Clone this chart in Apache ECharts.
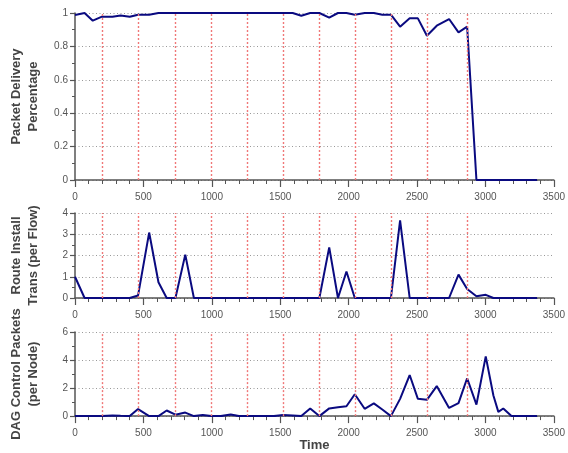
<!DOCTYPE html>
<html><head><meta charset="utf-8">
<script src="https://cdn.jsdelivr.net/npm/echarts@6/dist/echarts.min.js"></script>
<style>html,body{margin:0;padding:0;background:#fff}#c{width:568px;height:453px}</style>
</head><body><div id="c"></div>
<script>
// Time stamps of samples (shared by all three panels)
const times = [0,70,130,197,274,333,400,461,542,610,670,734,806,869,934,996,1066,1138,1198,1260,1325,1390,1454,1521,1591,1654,1719,1786,1858,1922,1984,2045,2117,2184,2246,2309,2376,2446,2506,2572,2644,2734,2803,2866,2934,3002,3058,3094,3130,3190,3254,3312,3377];
// Panel 1: Packet Delivery Percentage
const delivery = [0.988,1.0,0.954,0.978,0.978,0.985,0.978,0.99,0.99,1.0,
  1,1,1,1,1,1,1,1,1,1,1,1,1,1,
  1.0,0.984,1.0,1.0,0.972,1.0,1.0,0.99,1.0,1.0,0.99,0.99,
  0.918,0.968,0.968,0.864,0.924,0.964,0.884,0.918,
  0,0,0,0,0,0,0,0,0];
// Panel 2: Route Install Trans (per Flow)
const routeInstall = [1.0,0,0,0,0,0,0,0.12,3.08,0.74,0,0,2.04,0,
  0,0,0,0,0,0,0,0,0,0,0,0,0,0,
  2.38,0,1.25,0,0,0,0,0,3.65,0,0,0,0,0,1.1,0.42,0.08,0.15,0,
  0,0,0,0,0,0];
// Panel 3: DAG Control Packets (per Node)
const dagControl = [0,0,0,0,0.05,0.02,0,0.5,0,0,0.4,0.1,0.25,0,0.08,0,0,0.12,0,0,0,0,0,0.08,0.05,0,
  0.55,0,0.55,0.63,0.7,1.56,0.52,0.91,0.47,0,1.23,2.93,1.23,1.16,2.14,0.58,0.93,2.7,0.82,4.26,1.47,0.3,0.54,
  0,0,0,0];
// Vertical red dotted event markers
const eventTimes = [197,461,734,996,1260,1521,1786,2045,2309,2572,2866];
// Axis tick settings
const xMin = 0, xMax = 3500, xInterval = 500;
const yMaxes = [1, 4, 6];
const yIntervals = [0.2, 1, 2];
const yNames = ['Packet Delivery\nPercentage', 'Route Install\nTrans (per Flow)', 'DAG Control Packets\n(per Node)'];
const seriesData = [delivery, routeInstall, dagControl];

const grids = [
  {left: 72, right: 10, top: 13, height: 167},
  {left: 72, right: 10, top: 213, height: 85},
  {left: 72, right: 10, top: 332, height: 86}
];
const axisColor = '#555';
const labelFont = 'Liberation Sans';

const xAxes = grids.map((g, i) => ({
  type: 'value', gridIndex: i, min: xMin, max: xMax, interval: xInterval,
  axisLine: {show: true, lineStyle: {color: axisColor, width: 1.5}},
  axisTick: {show: true, length: 7, lineStyle: {color: axisColor, width: 1.2}},
  minorTick: {show: true, splitNumber: 5, length: 4, lineStyle: {color: axisColor, width: 1}},
  splitLine: {show: false},
  axisLabel: {color: '#555', fontSize: 10, fontFamily: labelFont, margin: 12, formatter: v => String(v)},
  name: i === 2 ? 'Time' : '',
  nameLocation: 'middle', nameGap: 22,
  nameTextStyle: {color: '#444', fontSize: 13, fontWeight: 'bold', fontFamily: labelFont}
}));
const yAxes = grids.map((g, i) => ({
  type: 'value', gridIndex: i, min: 0, max: yMaxes[i], interval: yIntervals[i],
  axisLine: {show: true, lineStyle: {color: axisColor, width: 1.5}},
  axisTick: {show: true, length: 5, lineStyle: {color: axisColor, width: 1.2}},
  minorTick: {show: true, splitNumber: 2, length: 3, lineStyle: {color: axisColor, width: 1}},
  splitLine: {show: true, lineStyle: {color: '#999', width: 1, type: [1, 2.5]}},
  axisLabel: {color: '#555', fontSize: 10, fontFamily: labelFont, margin: 7, formatter: v => String(v)},
  name: yNames[i], nameLocation: 'middle', nameRotate: 90, nameGap: 33,
  nameTextStyle: {color: '#444', fontSize: 13, fontWeight: 'bold', fontFamily: labelFont, lineHeight: 17, align: 'center'}
}));
const series = seriesData.map((vals, i) => ({
  type: 'line', xAxisIndex: i, yAxisIndex: i,
  data: times.map((t, k) => [t, vals[k]]),
  showSymbol: false, symbol: 'none',
  lineStyle: {color: '#0a0a80', width: 2},
  z: 3,
  animation: false,
  markLine: {
    silent: true, symbol: 'none', animation: false,
    label: {show: false},
    lineStyle: {color: '#f07878', width: 1.4, type: [2, 2]},
    data: eventTimes.map(t => ({xAxis: t}))
  }
}));

const chart = echarts.init(document.getElementById('c'), null, {renderer: 'canvas'});
chart.setOption({
  animation: false,
  backgroundColor: '#fff',
  grid: grids,
  xAxis: xAxes,
  yAxis: yAxes,
  series: series
});
</script>
</body></html>
